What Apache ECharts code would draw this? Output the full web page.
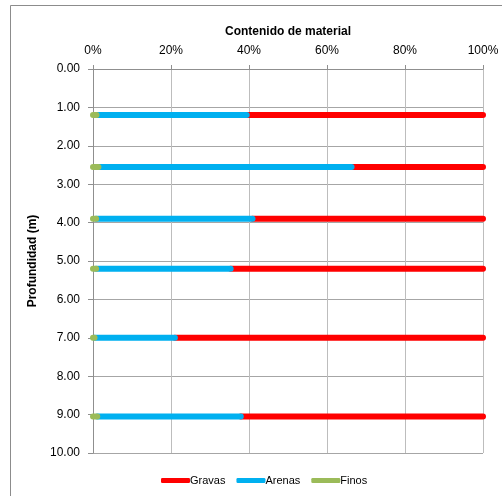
<!DOCTYPE html>
<html>
<head>
<meta charset="utf-8">
<script src="https://cdn.jsdelivr.net/npm/echarts@6/dist/echarts.min.js"></script>
<style>
  html, body { margin: 0; padding: 0; background: #fff; }
  #chart { width: 502px; height: 496px; }
</style>
</head>
<body>
<div id="chart"></div>
<script>
// Sample depths (m) and material content (%) per sample
const depths = [1.2, 2.55, 3.9, 5.2, 7.0, 9.05];
const finos  = [0.9, 1.4, 0.8, 0.8, 0.4, 1.1];
const arenas = [38.5, 64.9, 40.1, 34.5, 20.6, 36.8];
const gravas = [60.6, 33.7, 59.1, 64.7, 79.0, 62.1];

const xTicks = [0, 20, 40, 60, 80, 100];
const yTicks = [0, 1, 2, 3, 4, 5, 6, 7, 8, 9, 10];

const FONT = 'Liberation Sans';

// Each material is drawn as a horizontal segment at its depth, stacked left to right
function segments(starts, amounts) {
  const out = [];
  depths.forEach((d, i) => {
    out.push([starts[i], d]);
    out.push([starts[i] + amounts[i], d]);
    out.push('-');
  });
  return out;
}
const zero = depths.map(() => 0);
const finosData = segments(zero, finos);
const arenasData = segments(finos, arenas);
const gravasStart = finos.map((f, i) => f + arenas[i]);
const gravasData = segments(gravasStart, gravas);

function lineSeries(name, color, data) {
  return {
    name, type: 'line', data,
    symbol: 'none',
    connectNulls: false,
    animation: false,
    lineStyle: { color, width: 6, cap: 'round' },
    itemStyle: { color }
  };
}

const chart = echarts.init(document.getElementById('chart'), null, { renderer: 'canvas' });
chart.setOption({
  backgroundColor: '#fff',
  animation: false,
  grid: { left: 93, right: 19, top: 69, bottom: 43 },
  graphic: [{
    type: 'rect', silent: true, z: -1,
    shape: { x: 10.5, y: 5.5, width: 520, height: 520 },
    style: { fill: 'none', stroke: '#8c8c8c', lineWidth: 1 }
  }],
  xAxis: {
    type: 'value', position: 'top',
    min: xTicks[0], max: xTicks[xTicks.length - 1], interval: 20,
    name: 'Contenido de material', nameLocation: 'middle', nameGap: 31,
    nameTextStyle: { fontFamily: FONT, fontWeight: 'bold', fontSize: 12, color: '#000' },
    axisLine: { show: true, lineStyle: { color: '#8f8f8f' } },
    axisTick: { show: true, length: 4, lineStyle: { color: '#8f8f8f' } },
    axisLabel: { margin: 12, fontFamily: FONT, fontSize: 12, color: '#000', formatter: v => v + '%' },
    splitLine: { show: true, lineStyle: { color: '#bdbdbd' } }
  },
  yAxis: {
    type: 'value', inverse: true,
    min: yTicks[0], max: yTicks[yTicks.length - 1], interval: 1,
    name: 'Profundidad (m)', nameLocation: 'middle', nameGap: 50, nameRotate: 90,
    nameTextStyle: { fontFamily: FONT, fontWeight: 'bold', fontSize: 12, color: '#000' },
    axisLine: { show: true, lineStyle: { color: '#8f8f8f' } },
    axisTick: { show: true, length: 5, lineStyle: { color: '#8f8f8f' } },
    axisLabel: { margin: 13, fontFamily: FONT, fontSize: 12, color: '#000', formatter: v => v.toFixed(2) },
    splitLine: { show: true, lineStyle: { color: '#a6a6a6' } }
  },
  legend: {
    data: ['Gravas', 'Arenas', 'Finos'],
    bottom: 5, left: 156,
    itemWidth: 29, itemHeight: 5, itemGap: 11,
    icon: 'roundRect',
    textStyle: { fontFamily: FONT, fontSize: 11, color: '#000', padding: [0, 0, 0, -5] }
  },
  series: [
    lineSeries('Gravas', '#ff0000', gravasData),
    lineSeries('Arenas', '#00b0f0', arenasData),
    lineSeries('Finos', '#9bbb59', finosData)
  ]
});
</script>
</body>
</html>
